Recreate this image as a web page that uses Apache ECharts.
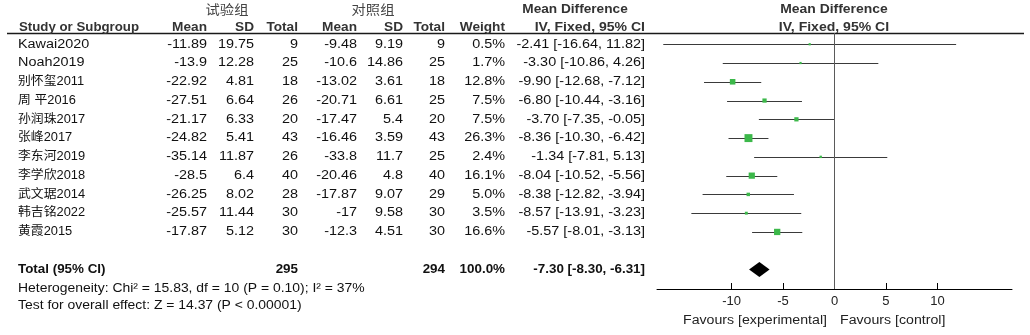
<!DOCTYPE html>
<html>
<head>
<meta charset="utf-8">
<script src="https://cdn.jsdelivr.net/npm/echarts@6/dist/echarts.min.js"></script>
<style>
html, body { margin: 0; padding: 0; background: #fff; }
#chart { width: 1030px; height: 335px; }
</style>
</head>
<body>
<div id="chart"></div>
<script>
// Study-level data
const studies  = ['Kawai2020', 'Noah2019', '别怀玺2011', '周 平2016', '孙润珠2017', '张峰2017', '李东河2019', '李学欣2018', '武文琚2014', '韩吉铭2022', '黄霞2015'];
const expMean  = [-11.89, -13.9, -22.92, -27.51, -21.17, -24.82, -35.14, -28.5, -26.25, -25.57, -17.87];
const expSD    = [19.75, 12.28, 4.81, 6.64, 6.33, 5.41, 11.87, 6.4, 8.02, 11.44, 5.12];
const expN     = [9, 25, 18, 26, 20, 43, 26, 40, 28, 30, 30];
const ctlMean  = [-9.48, -10.6, -13.02, -20.71, -17.47, -16.46, -33.8, -20.46, -17.87, -17, -12.3];
const ctlSD    = [9.19, 14.86, 3.61, 6.61, 5.4, 3.59, 11.7, 4.8, 9.07, 9.58, 4.51];
const ctlN     = [9, 25, 18, 25, 20, 43, 25, 40, 29, 30, 30];
const weight   = [0.5, 1.7, 12.8, 7.5, 7.5, 26.3, 2.4, 16.1, 5.0, 3.5, 16.6];
const md       = [-2.41, -3.30, -9.90, -6.80, -3.70, -8.36, -1.34, -8.04, -8.38, -8.57, -5.57];
const ciLow    = [-16.64, -10.86, -12.68, -10.44, -7.35, -10.30, -7.81, -10.52, -12.82, -13.91, -8.01];
const ciHigh   = [11.82, 4.26, -7.12, -3.16, -0.05, -6.42, 5.13, -5.56, -3.94, -3.23, -3.13];

// Pooled result
const totalExpN = 295;
const totalCtlN = 294;
const totalWeight = 100.0;
const totalMD = -7.30;
const totalLow = -8.30;
const totalHigh = -6.31;
const heterogeneityText = 'Heterogeneity: Chi² = 15.83, df = 10 (P = 0.10); I² = 37%';
const overallText = 'Test for overall effect: Z = 14.37 (P < 0.00001)';

// Axis ticks
const xTicks = [-10, -5, 0, 5, 10];

const TOTAL_ROW = 12;
const FONT = '"Liberation Sans", Arial, "Noto Sans CJK SC", sans-serif';
const CJK_FONT = '"Noto Sans CJK SC", "Liberation Sans", sans-serif';

// Column anchors of the table (pixels)
const COL = { name: 18, expMean: 207, expSD: 254, expN: 298, ctlMean: 357, ctlSD: 403, ctlN: 445, weight: 505, ci: 645 };

const fmt2 = v => v.toFixed(2);
const ciText = (m, l, h) => fmt2(m) + ' [' + fmt2(l) + ', ' + fmt2(h) + ']';

function textEl(x, y, s, o) {
  o = o || {};
  return {
    type: 'text', x: x, y: y, scaleX: o.scale || 1.2, silent: true,
    style: {
      text: s,
      fontSize: o.size || 12,
      fontFamily: o.family || FONT,
      fontWeight: o.bold ? 'bold' : 'normal',
      fill: o.color || '#111',
      align: o.align || 'left',
      verticalAlign: 'middle'
    }
  };
}

const hasCJK = s => /[\u4e00-\u9fff]/.test(s);

const tableRows = studies.map((s, i) => [0, i]).concat([[0, TOTAL_ROW]]);
const ciData = studies.map((s, i) => [ciLow[i], ciHigh[i], i]);
const pointData = studies.map((s, i) => [md[i], i, weight[i]]);

const chart = echarts.init(document.getElementById('chart'));

const option = {
  animation: false,
  grid: { left: 657, right: 18, top: 33, bottom: 46 },
  xAxis: {
    type: 'value', min: -17.25, max: 17.25,
    axisLine: { show: true, onZero: false, lineStyle: { color: '#000', width: 1 } },
    axisTick: { show: true, inside: true, length: 6, customValues: xTicks, lineStyle: { color: '#000' } },
    axisLabel: { customValues: xTicks, fontSize: 13, fontFamily: FONT, color: '#222', margin: 6 },
    splitLine: { show: false }
  },
  yAxis: { type: 'value', inverse: true, min: -0.6, max: 13.04, show: false },
  graphic: [
    { type: 'line', silent: true, shape: { x1: 7, y1: 33.5, x2: 1024, y2: 33.5 }, style: { stroke: '#1a1a1a', lineWidth: 1.3 } },
    textEl(227, 9, '试验组', { align: 'center', size: 13, family: CJK_FONT, color: '#444', scale: 1.1 }),
    textEl(373, 9, '对照组', { align: 'center', size: 13, family: CJK_FONT, color: '#444', scale: 1.1 }),
    textEl(575, 9, 'Mean Difference', { align: 'center', size: 13, bold: true, color: '#333', scale: 1.05 }),
    textEl(834, 9, 'Mean Difference', { align: 'center', size: 13, bold: true, color: '#333', scale: 1.07 }),
    textEl(19, 27.5, 'Study or Subgroup', { size: 13, bold: true, color: '#333', scale: 1.02 }),
    textEl(COL.expMean, 27.5, 'Mean', { align: 'right', size: 13, bold: true, color: '#333', scale: 1.05 }),
    textEl(COL.expSD, 27.5, 'SD', { align: 'right', size: 13, bold: true, color: '#333', scale: 1.05 }),
    textEl(COL.expN, 27.5, 'Total', { align: 'right', size: 13, bold: true, color: '#333', scale: 1.05 }),
    textEl(COL.ctlMean, 27.5, 'Mean', { align: 'right', size: 13, bold: true, color: '#333', scale: 1.05 }),
    textEl(COL.ctlSD, 27.5, 'SD', { align: 'right', size: 13, bold: true, color: '#333', scale: 1.05 }),
    textEl(COL.ctlN, 27.5, 'Total', { align: 'right', size: 13, bold: true, color: '#333', scale: 1.05 }),
    textEl(COL.weight, 27.5, 'Weight', { align: 'right', size: 13, bold: true, color: '#333', scale: 1.05 }),
    textEl(COL.ci, 27.5, 'IV, Fixed, 95% CI', { align: 'right', size: 13, bold: true, color: '#333', scale: 1.08 }),
    textEl(834, 27.5, 'IV, Fixed, 95% CI', { align: 'center', size: 13, bold: true, color: '#333', scale: 1.08 }),
    textEl(18, 288.5, heterogeneityText, { scale: 1.16 }),
    textEl(18, 306, overallText, { scale: 1.16 }),
    textEl(827, 320.5, 'Favours [experimental]', { align: 'right', color: '#222', scale: 1.18 }),
    textEl(840, 320.5, 'Favours [control]', { color: '#222', scale: 1.18 })
  ],
  series: [
    {
      // Table text, one line per study plus the pooled row
      type: 'custom', name: 'table', clip: false, silent: true,
      data: tableRows,
      encode: { x: 0, y: 1 },
      renderItem: function (params, api) {
        const row = api.value(1);
        const y = api.coord([0, row])[1];
        const i = params.dataIndex;
        if (row === TOTAL_ROW) {
          const b = { bold: true, size: 13, scale: 1.03, align: 'right' };
          return {
            type: 'group', children: [
              textEl(COL.name, y, 'Total (95% CI)', { bold: true, size: 13, scale: 1.03 }),
              textEl(COL.expN, y, String(totalExpN), b),
              textEl(COL.ctlN, y, String(totalCtlN), b),
              textEl(COL.weight, y, totalWeight.toFixed(1) + '%', b),
              textEl(COL.ci, y, ciText(totalMD, totalLow, totalHigh), b)
            ]
          };
        }
        const r = { align: 'right' };
        return {
          type: 'group', children: [
            textEl(COL.name, y, studies[i], { scale: hasCJK(studies[i]) ? 1.07 : 1.2 }),
            textEl(COL.expMean, y, String(expMean[i]), r),
            textEl(COL.expSD, y, String(expSD[i]), r),
            textEl(COL.expN, y, String(expN[i]), r),
            textEl(COL.ctlMean, y, String(ctlMean[i]), r),
            textEl(COL.ctlSD, y, String(ctlSD[i]), r),
            textEl(COL.ctlN, y, String(ctlN[i]), r),
            textEl(COL.weight, y, weight[i].toFixed(1) + '%', r),
            textEl(COL.ci, y, ciText(md[i], ciLow[i], ciHigh[i]), r)
          ]
        };
      }
    },
    {
      // Confidence interval whiskers
      type: 'custom', name: 'ci', silent: true, z: 3,
      data: ciData,
      encode: { x: [0, 1], y: 2 },
      renderItem: function (params, api) {
        const p1 = api.coord([api.value(0), api.value(2)]);
        const p2 = api.coord([api.value(1), api.value(2)]);
        return {
          type: 'line',
          shape: { x1: p1[0], y1: Math.round(p1[1]) + 0.5, x2: p2[0], y2: Math.round(p2[1]) + 0.5 },
          style: { stroke: '#3a3a3a', lineWidth: 1 }
        };
      }
    },
    {
      // Study estimates, square size scaled by weight
      type: 'scatter', name: 'estimate', silent: true, z: 4,
      symbol: 'rect',
      symbolSize: v => Math.max(2.2, 1.55 * Math.sqrt(v[2])),
      itemStyle: { color: '#3cb84a', opacity: 1 },
      data: pointData,
      markLine: {
        silent: true, symbol: ['none', 'none'], label: { show: false },
        lineStyle: { color: '#5a5a5a', type: 'solid', width: 1 },
        data: [{ xAxis: 0 }]
      }
    },
    {
      // Pooled estimate diamond
      type: 'custom', name: 'pooled', silent: true, z: 5,
      data: [[totalMD, TOTAL_ROW, totalLow, totalHigh]],
      encode: { x: [0, 2, 3], y: 1 },
      renderItem: function (params, api) {
        const row = api.value(1);
        const c = api.coord([api.value(0), row]);
        const l = api.coord([api.value(2), row]);
        const r = api.coord([api.value(3), row]);
        const h = 7.5;
        return {
          type: 'polygon',
          shape: { points: [[l[0], c[1]], [c[0], c[1] - h], [r[0], c[1]], [c[0], c[1] + h]] },
          style: { fill: '#000' }
        };
      }
    }
  ]
};

chart.setOption(option);
</script>
</body>
</html>
